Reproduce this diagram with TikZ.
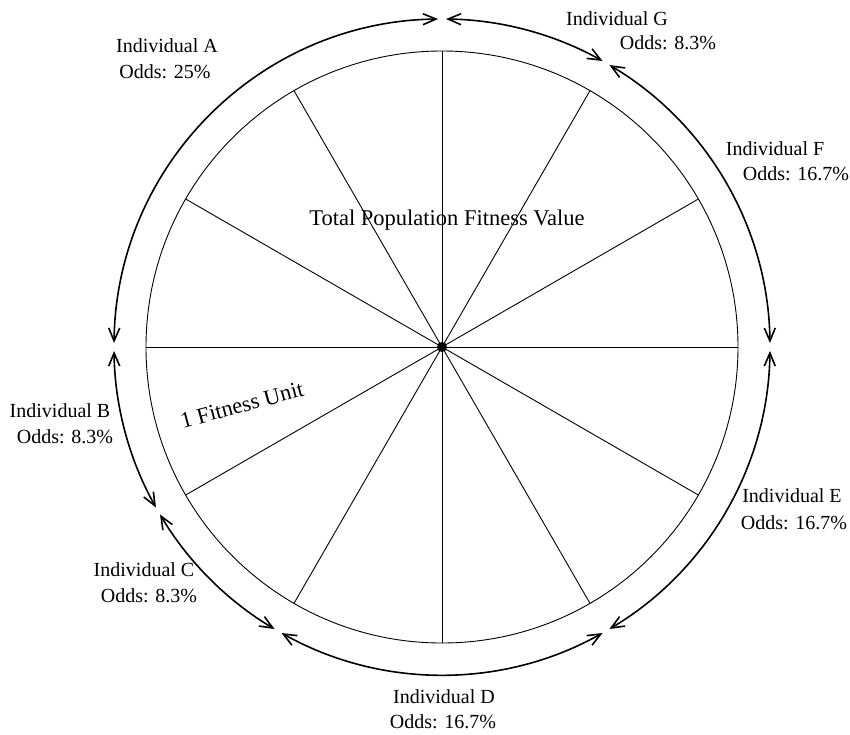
\documentclass[tikz,border=0pt]{standalone}
\usepackage{fontspec}
\setmainfont{Liberation Serif}
\usetikzlibrary{arrows.meta}
\begin{document}
\begin{tikzpicture}[x=1pt,y=1pt,
  spoke/.style={line width=0.9pt},
  seg/.style={line width=1.6pt,
    {Straight Barb[length=13pt,width=11pt]}-{Straight Barb[length=13pt,width=11pt]}},
  lbl/.style={font=\fontsize{20}{22}\selectfont, inner sep=0pt},
  big/.style={font=\fontsize{22.5}{25}\selectfont, inner sep=0pt}]
\useasboundingbox (-442,-387) rectangle (408,347);
\coordinate (O) at (0,0);
% inner wheel
\draw[spoke] (O) circle (296);
\foreach \a in {0,30,...,330} \draw[spoke] (O) -- (\a:296);
\fill (O) circle (5);
% outer segments
\def\R{328}
\def\g{0.7}
\foreach \s/\e in {90/180,180/210,210/240,240/300,300/360,0/60,60/90}
  \draw[seg] ({\s+\g}:\R) arc[start angle={\s+\g}, end angle={\e-\g}, radius=\R];
% texts
\node[big] (total) at (5,127) {Total Population Fitness Value};
\node[big, rotate=15] (unit) at (-200,-58) {1 Fitness Unit};
\node[lbl] (a1) at (-275,301) {Individual A};
\node[lbl] (a2) at (-277,275) {Odds: 25\%};
\node[lbl] (g1) at (175,328) {Individual G};
\node[lbl] (g2) at (226,304) {Odds: 8.3\%};
\node[lbl] (f1) at (333,198) {Individual F};
\node[lbl] (f2) at (354,173) {Odds: 16.7\%};
\node[lbl] (b1) at (-382,-64) {Individual B};
\node[lbl] (b2) at (-377,-90) {Odds: 8.3\%};
\node[lbl] (c1) at (-298,-223) {Individual C};
\node[lbl] (c2) at (-293,-249) {Odds: 8.3\%};
\node[lbl] (d1) at (2,-350) {Individual D};
\node[lbl] (d2) at (1,-375) {Odds: 16.7\%};
\node[lbl] (e1) at (350,-149) {Individual E};
\node[lbl] (e2) at (352,-176) {Odds: 16.7\%};
\end{tikzpicture}
\end{document}
